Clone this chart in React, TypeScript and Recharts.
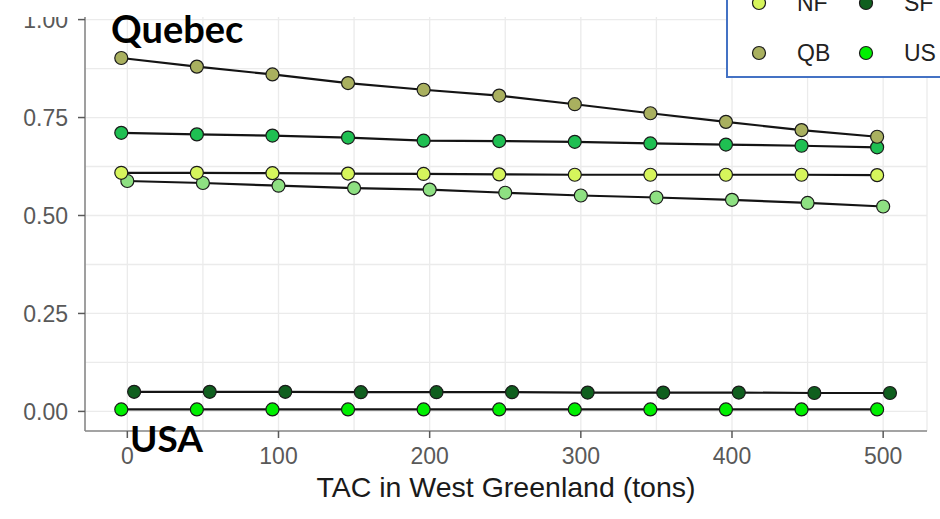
import { ComposedChart, Line, Scatter, XAxis, YAxis, CartesianGrid } from "recharts"

const tac = [0, 50, 100, 150, 200, 250, 300, 350, 400, 450, 500]
const xTicks = [0, 50, 100, 150, 200, 250, 300, 350, 400, 450, 500]
const xLabels = [0, 100, 200, 300, 400, 500]
const yTicks = [0, 0.125, 0.25, 0.375, 0.5, 0.625, 0.75, 0.875, 1]
const yLabels = [0, 0.25, 0.5, 0.75, 1]

const gf = [0.711, 0.707, 0.704, 0.699, 0.691, 0.69, 0.688, 0.684, 0.681, 0.678, 0.674]
const lb = [0.588, 0.583, 0.576, 0.57, 0.566, 0.558, 0.551, 0.546, 0.54, 0.532, 0.523]
const nf = [0.609, 0.609, 0.608, 0.607, 0.606, 0.605, 0.604, 0.604, 0.604, 0.604, 0.603]
const qb = [0.902, 0.88, 0.86, 0.838, 0.821, 0.806, 0.784, 0.761, 0.739, 0.718, 0.701]
const sf = [0.05, 0.05, 0.05, 0.049, 0.049, 0.049, 0.048, 0.048, 0.048, 0.047, 0.047]
const us = [0.005, 0.005, 0.005, 0.005, 0.005, 0.005, 0.005, 0.005, 0.005, 0.005, 0.005]

// dodge = small x shift (tons) like ggplot position_dodge
const series = [
  { name: "GF", values: gf, fill: "#1fbf52", dodge: -4 },
  { name: "LB", values: lb, fill: "#8ee082", dodge: 0 },
  { name: "NF", values: nf, fill: "#d6f55c", dodge: -4 },
  { name: "SF", values: sf, fill: "#0f5f1e", dodge: 4.5 },
  { name: "QB", values: qb, fill: "#a9b05f", dodge: -4 },
  { name: "US", values: us, fill: "#00ef00", dodge: -4 },
]

const legendOrder = ["GF", "LB", "NF", "SF", "QB", "US"]

const axisGrey = "#8a8a8a"
const tickGrey = "#595959"

function XTick({ x, y, payload }: any) {
  if (!xLabels.includes(payload.value)) return <g />
  return (
    <g>
      <line x1={x} x2={x} y1={y - 17} y2={y - 10} stroke={tickGrey} strokeWidth={1.5} />
      <text x={x} y={y} dy="0.71em" textAnchor="middle" fontSize={23} fill={tickGrey}>
        {payload.value}
      </text>
    </g>
  )
}

function YTick({ x, y, payload }: any) {
  if (!yLabels.includes(payload.value)) return <g />
  return (
    <g>
      <line x1={x + 10} x2={x + 17} y1={y} y2={y} stroke={tickGrey} strokeWidth={1.5} />
      <text x={x} y={y} dy="0.355em" textAnchor="end" fontSize={23} fill={tickGrey}>
        {payload.value.toFixed(2)}
      </text>
    </g>
  )
}

export default function App() {
  const lines = series.map((s) => ({
    ...s,
    data: tac.map((t, i) => ({ x: t + s.dodge, y: s.values[i] })),
  }))

  return (
    <div
      style={{
        position: "fixed",
        left: 0,
        top: 0,
        width: 940,
        height: 519,
        overflow: "hidden",
        background: "#fff",
        fontFamily: "'Liberation Sans', Arial, sans-serif",
      }}
    >
      <ComposedChart width={940} height={519} margin={{ top: 0, right: 13, bottom: 0, left: 0 }}>
        <CartesianGrid stroke="#ebebeb" strokeWidth={1.3} />
        <XAxis
          type="number"
          dataKey="x"
          domain={[-28, 529]}
          allowDataOverflow
          ticks={xTicks}
          interval={0}
          height={88}
          tickSize={7}
          tickMargin={10}
          tickLine={false}
          tick={<XTick />}
          axisLine={{ stroke: axisGrey, strokeWidth: 1.6 }}
          label={{
            value: "TAC in West Greenland (tons)",
            position: "insideBottom",
            offset: 22,
            fontSize: 28.5,
            fill: "#1a1a1a",
          }}
        />
        <YAxis
          type="number"
          dataKey="y"
          domain={[-0.05, 1.05]}
          allowDataOverflow
          ticks={yTicks}
          interval={0}
          width={85}
          tickSize={7}
          tickMargin={10}
          tickLine={false}
          tick={<YTick />}
          axisLine={{ stroke: axisGrey, strokeWidth: 1.6 }}
        />
        <YAxis
          yAxisId="border"
          orientation="right"
          width={0}
          tick={false}
          tickLine={false}
          axisLine={{ stroke: axisGrey, strokeWidth: 1.6 }}
        />
        {lines.map((s) => (
          <Line
            key={"l" + s.name}
            data={s.data}
            dataKey="y"
            stroke="#141414"
            strokeWidth={2.2}
            dot={false}
            activeDot={false}
            isAnimationActive={false}
          />
        ))}
        {lines.map((s) => (
          <Scatter
            key={"p" + s.name}
            data={s.data}
            dataKey="y"
            fill={s.fill}
            isAnimationActive={false}
            shape={(p: any) => (
              <circle cx={p.cx} cy={p.cy} r={6.5} fill={s.fill} stroke="#1a1a1a" strokeWidth={1.2} />
            )}
          />
        ))}
      </ComposedChart>

      <svg
        width={940}
        height={519}
        style={{ position: "absolute", left: 0, top: 0, pointerEvents: "none" }}
      >
        <rect x={15} y={0} width={711} height={17} fill="#fff" />
        <rect x={727} y={-20} width={240} height={97} fill="#fff" stroke="#4472c4" strokeWidth={2} />
        {legendOrder.map((name, i) => {
          const s = series.find((d) => d.name === name)!
          const cx = 759 + (i % 2) * 107
          const cy = -47 + Math.floor(i / 2) * 50
          return (
            <g key={name}>
              <circle cx={cx} cy={cy} r={6.5} fill={s.fill} stroke="#1a1a1a" strokeWidth={1.2} />
              <text x={cx + 38} y={cy + 8} fontSize={23} fill="#222">
                {name}
              </text>
            </g>
          )
        })}
        <text x={111} y={43} fontSize={38} fontWeight="bold" fontFamily="Lato, sans-serif" fill="#000">
          Quebec
        </text>
        <text x={130} y={452} fontSize={37} fontWeight="bold" fontFamily="Lato, sans-serif" fill="#000">
          USA
        </text>
      </svg>
    </div>
  )
}
